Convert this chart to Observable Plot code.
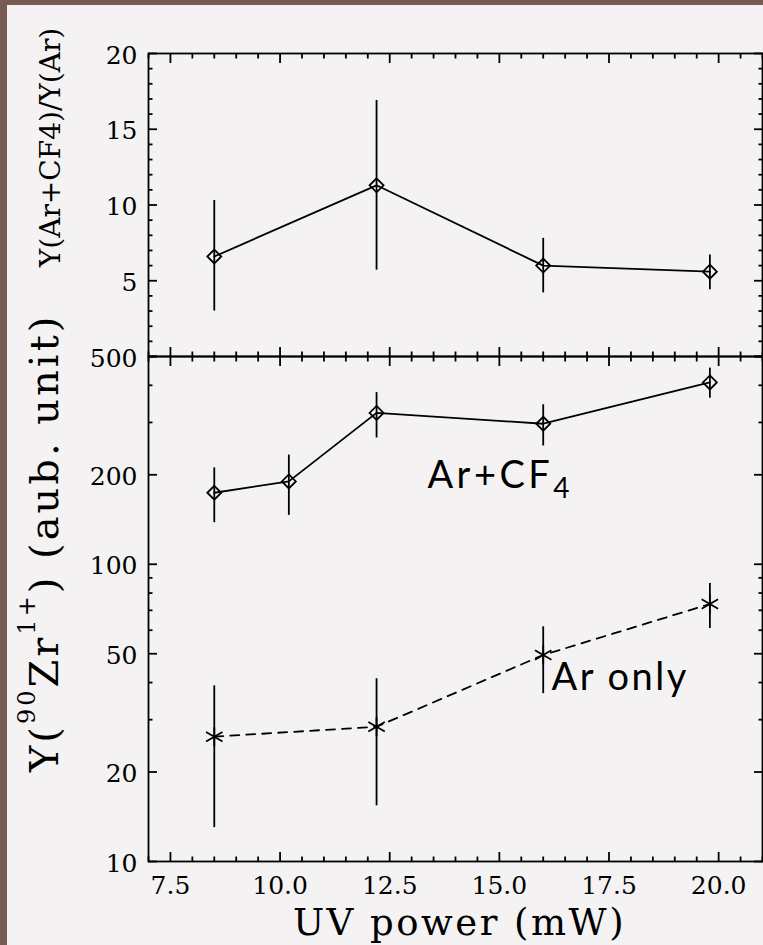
<!DOCTYPE html>
<html>
<head>
<meta charset="utf-8">
<script src="https://cdn.jsdelivr.net/npm/d3@7"></script>
<script src="https://cdn.jsdelivr.net/npm/@observablehq/plot@0.6"></script>
<style>
  body { margin: 0; background: #775c53; width: 763px; height: 945px; overflow: hidden; }
  #sheet { position: absolute; left: 7px; top: 5px; width: 756px; height: 940px; background: #f4f2f2; }
  #chart { position: absolute; left: 0; top: 0; width: 763px; height: 945px; }
  #chart svg { position: absolute; left: 0; background: transparent; overflow: visible; }
</style>
</head>
<body>
<div id="sheet"></div>
<div id="chart"></div>
<script>
// UV power (mW) for each series
const ratioPower = [8.5, 12.2, 16.0, 19.8];
const cf4Power   = [8.5, 10.2, 12.2, 16.0, 19.8];
const arPower    = [8.5, 12.2, 16.0, 19.8];

// Yield ratio Y(Ar+CF4)/Y(Ar) with error range
const ratio     = [6.6, 11.3, 6.0, 5.6];
const ratioLow  = [3.0, 5.7, 4.2, 4.4];
const ratioHigh = [10.3, 16.9, 7.8, 6.7];

// Zr1+ yield with Ar+CF4 gas
const cf4Yield = [174, 190, 323, 297, 409];
const cf4Low   = [138, 146, 266, 250, 362];
const cf4High  = [211, 233, 378, 344, 457];

// Zr1+ yield with Ar only
const arYield = [26.3, 28.4, 49.5, 73.5];
const arLow   = [13.0, 15.4, 36.7, 60.8];
const arHigh  = [39.0, 41.2, 61.6, 86.2];

// Axis ticks
const xTickLabels = [7.5, 10.0, 12.5, 15.0, 17.5, 20.0];
const ratioTickLabels = [5, 10, 15, 20];
const yieldTickLabels = [10, 20, 50, 100, 200, 500];
const yieldMinorTicks = [30, 40, 60, 70, 80, 90, 300, 400];

// Series annotations (placed in data units)
const seriesNames = ["Ar+CF4", "Ar only"];
const seriesNamePower = [13.36, 16.19];
const seriesNameYield = [181, 37.8];

const xDomain = [7, 21];
const xMinor = d3.range(7, 21.001, 0.5).filter(v => !xTickLabels.includes(v));
const ratioMinor = d3.range(1, 20).filter(v => !ratioTickLabels.includes(v));

const W = 763;
const lw = 1.8;
const serif = "DejaVu Serif";
const sans = "Lato, 'Open Sans', sans-serif";

// ticks drawn inward from the frame
function inward(axis, anchor, values, size) {
  return axis(values, {anchor, tickSize: -size, tickFormat: () => "", strokeWidth: lw, label: null});
}
function frameTicksX(major, minor) {
  return ["top", "bottom"].flatMap(a => [inward(Plot.axisX, a, major, 9), inward(Plot.axisX, a, minor, 4.5)]);
}
function frameTicksY(major, minor) {
  return ["left", "right"].flatMap(a => [inward(Plot.axisY, a, major, 9), inward(Plot.axisY, a, minor, 4.5)]);
}

const baseStyle = {fontFamily: serif, fontSize: "25px", background: "transparent", color: "black", overflow: "visible"};

// Upper panel: yield ratio
const ri = d3.range(ratio.length);
const topPanel = Plot.plot({
  width: W, height: 357,
  marginTop: 53, marginBottom: 1, marginLeft: 148, marginRight: 1,
  style: baseStyle,
  x: {domain: xDomain, axis: null},
  y: {domain: [0, 20], axis: null},
  marks: [
    Plot.frame({strokeWidth: lw}),
    ...frameTicksX([...xTickLabels], xMinor),
    ...frameTicksY([0, ...ratioTickLabels], ratioMinor),
    Plot.axisY(ratioTickLabels, {anchor: "left", tickSize: 0, tickPadding: 11, dy: 2, label: null}),
    Plot.text(["Y(Ar+CF4)/Y(Ar)"], {
      y: () => 13.8, text: d => d, frameAnchor: "left", dx: -89, rotate: -90,
      textAnchor: "middle", lineAnchor: "bottom", fontSize: 28, fontFamily: serif
    }),
    Plot.ruleX(ri, {x: i => ratioPower[i], y1: i => ratioLow[i], y2: i => ratioHigh[i], strokeWidth: lw}),
    Plot.line(ri, {x: i => ratioPower[i], y: i => ratio[i], strokeWidth: lw}),
    Plot.dot(ri, {x: i => ratioPower[i], y: i => ratio[i], symbol: "diamond2", r: 6.3, stroke: "black", fill: "none", strokeWidth: lw})
  ]
});

// Lower panel: Zr1+ yield, log scale
const ci = d3.range(cf4Yield.length);
const ai = d3.range(arYield.length);
const si = d3.range(seriesNames.length);
const bottomPanel = Plot.plot({
  width: W, height: 590,
  marginTop: 1, marginBottom: 84, marginLeft: 148, marginRight: 1,
  style: baseStyle,
  x: {domain: xDomain, axis: null},
  y: {type: "log", domain: [10, 500], axis: null},
  marks: [
    Plot.frame({strokeWidth: lw}),
    ...frameTicksX([...xTickLabels], xMinor),
    ...frameTicksY(yieldTickLabels, yieldMinorTicks),
    Plot.axisX(xTickLabels, {anchor: "bottom", tickSize: 0, tickPadding: 15, tickFormat: d3.format(".1f"), label: null}),
    Plot.axisY(yieldTickLabels, {anchor: "left", tickSize: 0, tickPadding: 11, dy: 2, tickFormat: d => String(d), label: null}),
    Plot.text(["UV power (mW)"], {
      text: d => d, frameAnchor: "bottom", dy: 73, dx: 4, lineAnchor: "bottom",
      textAnchor: "middle", fontSize: 37, fontFamily: serif
    }),
    Plot.text(["Y(90Zr1+) (aub. unit)"], {
      y: () => 118, text: d => d, frameAnchor: "left", dx: -91, rotate: -90,
      textAnchor: "middle", lineAnchor: "bottom", fontSize: 40, fontFamily: serif
    }),
    // Ar+CF4
    Plot.ruleX(ci, {x: i => cf4Power[i], y1: i => cf4Low[i], y2: i => cf4High[i], strokeWidth: lw}),
    Plot.line(ci, {x: i => cf4Power[i], y: i => cf4Yield[i], strokeWidth: lw}),
    Plot.dot(ci, {x: i => cf4Power[i], y: i => cf4Yield[i], symbol: "diamond2", r: 6.3, stroke: "black", fill: "none", strokeWidth: lw}),
    // Ar only
    Plot.ruleX(ai, {x: i => arPower[i], y1: i => arLow[i], y2: i => arHigh[i], strokeWidth: lw}),
    Plot.line(ai, {x: i => arPower[i], y: i => arYield[i], strokeWidth: lw, strokeDasharray: "9,7"}),
    Plot.dot(ai, {x: i => arPower[i], y: i => arYield[i], symbol: "asterisk", r: 9, stroke: "black", strokeWidth: lw}),
    // series names
    Plot.text(si, {
      x: i => seriesNamePower[i], y: i => seriesNameYield[i], text: i => seriesNames[i],
      textAnchor: "start", lineAnchor: "bottom", fontSize: 38, fontFamily: sans
    })
  ]
});

// Rebuild a text element's content with raised / lowered runs
function richText(svg, full, parts, extra = {}) {
  d3.select(svg).selectAll("text").filter(function () { return this.textContent === full; }).each(function () {
    const t = d3.select(this);
    for (const [k, v] of Object.entries(extra)) t.attr(k, v);
    t.text(null);
    let shift = 0;
    for (const p of parts) {
      const s = t.append("tspan").text(p.text);
      const target = p.shift || 0;
      if (target !== shift) { s.attr("dy", target - shift); shift = target; }
      if (p.size) s.attr("font-size", p.size);
    }
  });
}

richText(bottomPanel, "Y(90Zr1+) (aub. unit)", [
  {text: "Y("},
  {text: "90", shift: -23, size: 24},
  {text: "Zr"},
  {text: "1+", shift: -23, size: 24},
  {text: ") (aub. unit)"}
], {"letter-spacing": 3});
richText(bottomPanel, "Ar+CF4", [
  {text: "Ar+CF"},
  {text: "4", shift: 10, size: 28}
], {"letter-spacing": 3.5});
richText(bottomPanel, "Ar only", [{text: "Ar only"}], {"letter-spacing": 2.5});
richText(bottomPanel, "UV power (mW)", [{text: "UV power (mW)"}], {"letter-spacing": 2.5});

topPanel.style.top = "0px";
bottomPanel.style.top = "355px";
document.getElementById("chart").append(topPanel, bottomPanel);
</script>
</body>
</html>
